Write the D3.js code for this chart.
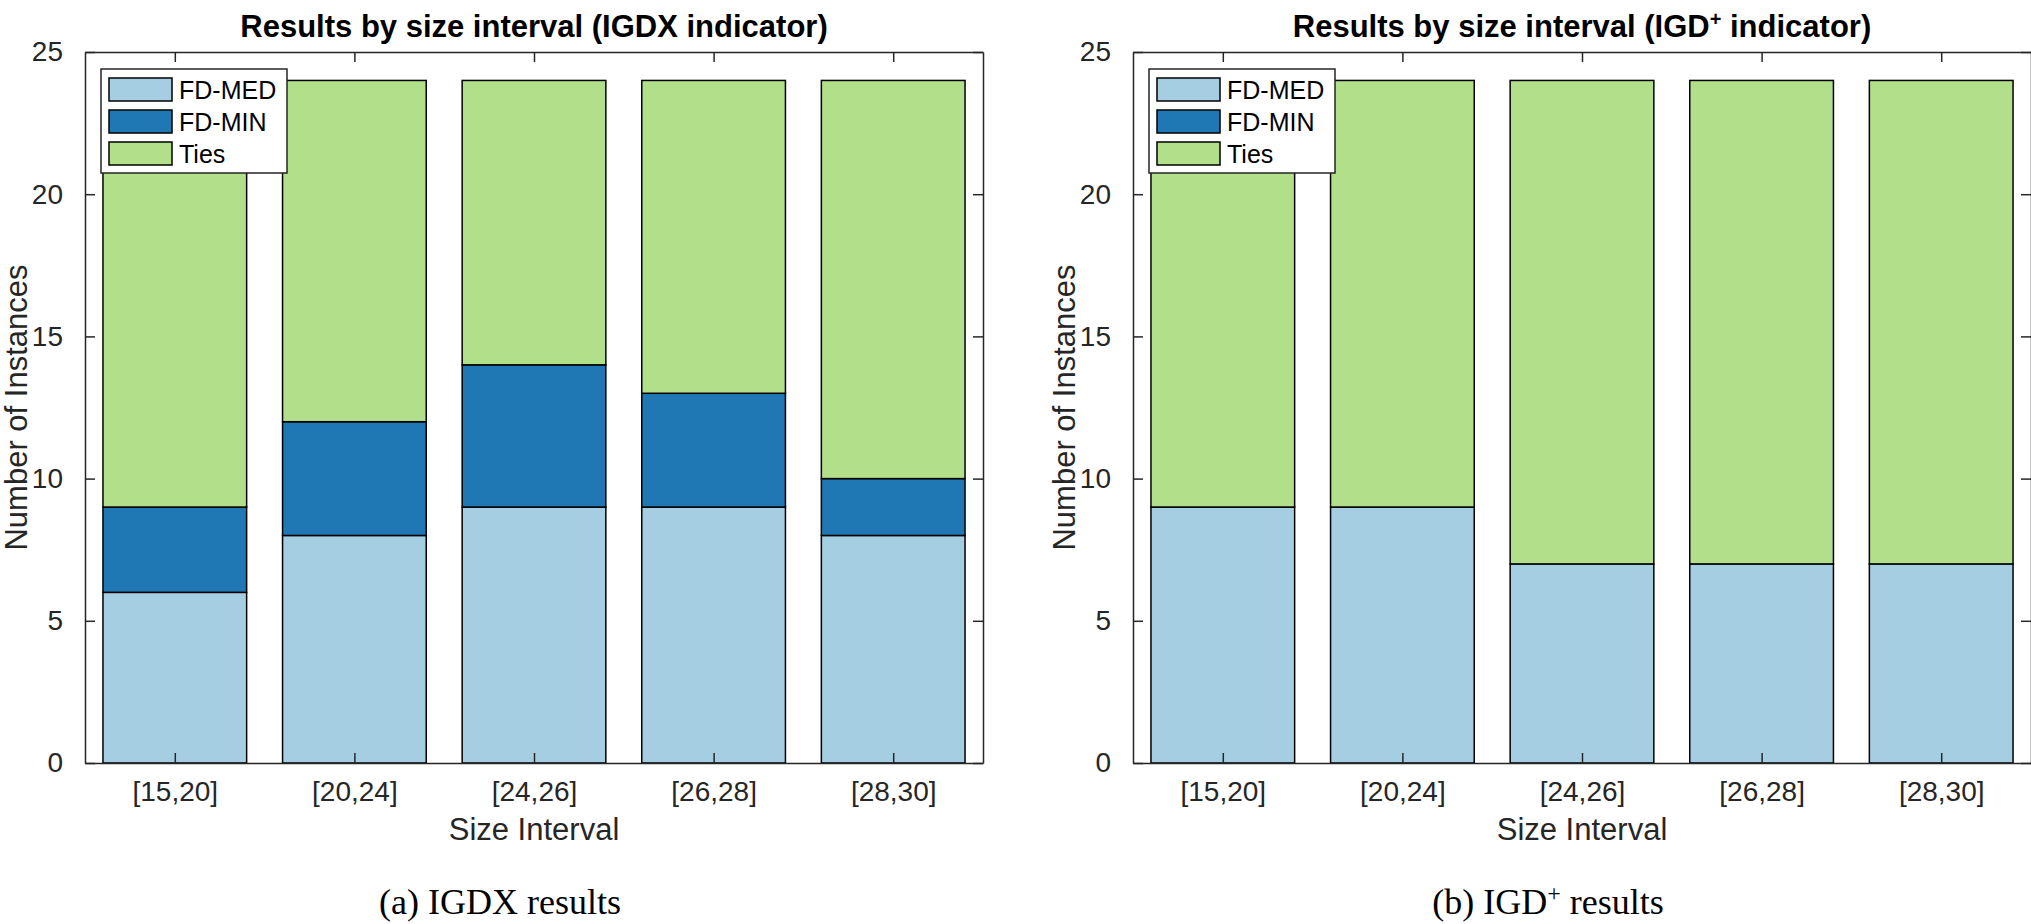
<!DOCTYPE html>
<html>
<head>
<meta charset="utf-8">
<script src="https://cdn.jsdelivr.net/npm/d3@7"></script>
<style>
  body { margin: 0; background: #fff; }
  svg { display: block; }
</style>
</head>
<body>
<div id="d3-container"></div>
<script>
// data
var categories = ['[15,20]', '[20,24]', '[24,26]', '[26,28]', '[28,30]'];
var seriesNames = ['FD-MED', 'FD-MIN', 'Ties'];

// (a) IGDX
var igdxMed = [6, 8, 9, 9, 8];
var igdxMin = [3, 4, 5, 4, 2];
var igdxTies = [15, 12, 10, 11, 14];

// (b) IGD+
var igdpMed = [9, 9, 7, 7, 7];
var igdpMin = [0, 0, 0, 0, 0];
var igdpTies = [15, 15, 17, 17, 17];

var yTicks = [0, 5, 10, 15, 20, 25];

var colors = ['#a6cee3', '#1f78b4', '#b2df8a'];
var axisColor = '#262626';

var W = 2031, H = 924;
var svg = d3.select('#d3-container')
  .append('svg')
  .attr('width', W)
  .attr('height', H);

// plot area of each panel
var plotW = 898, plotH = 711, plotTop = 52;
var panels = [
  {
    left: 85,
    title: [{ t: 'Results by size interval (IGDX indicator)' }],
    caption: [{ t: '(a) IGDX results' }],
    series: [igdxMed, igdxMin, igdxTies]
  },
  {
    left: 1133,
    title: [{ t: 'Results by size interval (IGD' }, { t: '+', sup: true }, { t: ' indicator)' }],
    caption: [{ t: '(b) IGD' }, { t: '+', sup: true }, { t: ' results' }],
    series: [igdpMed, igdpMin, igdpTies]
  }
];

function richText(sel, parts, supSize) {
  parts.forEach(function (p) {
    var ts = sel.append('tspan').text(p.t);
    if (p.sup) {
      ts.attr('baseline-shift', 'super').style('font-size', supSize);
    }
  });
}

panels.forEach(function (p) {
  var g = svg.append('g').attr('transform', 'translate(' + p.left + ',' + plotTop + ')');

  var x = d3.scaleLinear().domain([0.5, categories.length + 0.5]).range([0, plotW]);
  var y = d3.scaleLinear().domain([0, 25]).range([plotH, 0]);
  var barW = x(0.8) - x(0);

  var rows = categories.map(function (c, i) {
    var r = { cat: c, idx: i + 1 };
    seriesNames.forEach(function (s, k) { r[s] = p.series[k][i]; });
    return r;
  });
  var stacked = d3.stack().keys(seriesNames)(rows);

  // bars
  g.selectAll('.layer')
    .data(stacked)
    .enter()
    .append('g')
    .attr('class', 'layer')
    .attr('fill', function (d, i) { return colors[i]; })
    .selectAll('rect')
    .data(function (d) { return d.filter(function (v) { return v[1] > v[0]; }); })
    .enter()
    .append('rect')
    .attr('x', function (d) { return x(d.data.idx) - barW / 2; })
    .attr('y', function (d) { return y(d[1]); })
    .attr('width', barW)
    .attr('height', function (d) { return y(d[0]) - y(d[1]); })
    .attr('stroke', '#000')
    .attr('stroke-width', 1.5);

  // axes (MATLAB style: ticks inside on all four sides)
  var tickLen = 10;
  var xAxis = d3.axisBottom(x)
    .tickValues(d3.range(1, categories.length + 1))
    .tickFormat(function (d) { return categories[d - 1]; })
    .tickSizeInner(-tickLen).tickSizeOuter(0).tickPadding(18);
  var yAxis = d3.axisLeft(y)
    .tickValues(yTicks)
    .tickSizeInner(-tickLen).tickSizeOuter(0).tickPadding(22);

  var gx = g.append('g').attr('transform', 'translate(0,' + plotH + ')').call(xAxis);
  var gy = g.append('g').call(yAxis);
  var gxTop = g.append('g').call(d3.axisTop(x)
    .tickValues(d3.range(1, categories.length + 1))
    .tickFormat('').tickSizeInner(-tickLen).tickSizeOuter(0));
  var gyRight = g.append('g').attr('transform', 'translate(' + plotW + ',0)')
    .call(d3.axisRight(y).tickValues(yTicks).tickFormat('')
      .tickSizeInner(-tickLen).tickSizeOuter(0));

  [gx, gy, gxTop, gyRight].forEach(function (a) {
    a.select('.domain').attr('stroke', axisColor).attr('stroke-width', 1.5);
    a.selectAll('.tick line').attr('stroke', axisColor).attr('stroke-width', 1.5);
    a.selectAll('.tick text')
      .attr('fill', axisColor)
      .style('font-family', 'Liberation Sans, Arial, sans-serif')
      .style('font-size', '28px');
  });
  gx.selectAll('.tick text').attr('dy', '0.71em');

  // title
  var title = g.append('text')
    .attr('x', plotW / 2)
    .attr('y', -15)
    .attr('text-anchor', 'middle')
    .style('font-family', 'Liberation Sans, Arial, sans-serif')
    .style('font-weight', 'bold')
    .style('font-size', '31px')
    .attr('fill', '#000');
  richText(title, p.title, '20px');

  // axis labels
  g.append('text')
    .attr('x', plotW / 2)
    .attr('y', plotH + 77)
    .attr('text-anchor', 'middle')
    .style('font-family', 'Liberation Sans, Arial, sans-serif')
    .style('font-size', '31px')
    .attr('fill', axisColor)
    .text('Size Interval');

  g.append('text')
    .attr('transform', 'translate(-58,' + plotH / 2 + ') rotate(-90)')
    .attr('text-anchor', 'middle')
    .style('font-family', 'Liberation Sans, Arial, sans-serif')
    .style('font-size', '31px')
    .attr('fill', axisColor)
    .text('Number of Instances');

  // legend
  var lg = g.append('g').attr('transform', 'translate(16,17)');
  lg.append('rect')
    .attr('width', 186).attr('height', 104)
    .attr('fill', '#fff')
    .attr('stroke', axisColor).attr('stroke-width', 1.5);
  seriesNames.forEach(function (s, i) {
    var row = lg.append('g').attr('transform', 'translate(8,' + (9 + i * 32) + ')');
    row.append('rect')
      .attr('width', 63).attr('height', 23)
      .attr('fill', colors[i])
      .attr('stroke', '#000').attr('stroke-width', 1.5);
    row.append('text')
      .attr('x', 70).attr('y', 11.5).attr('dy', '0.36em')
      .style('font-family', 'Liberation Sans, Arial, sans-serif')
      .style('font-size', '25px')
      .attr('fill', '#000')
      .text(s);
  });

  // subfigure caption
  var cap = g.append('text')
    .attr('x', plotW / 2 - 34)
    .attr('y', 914 - plotTop)
    .attr('text-anchor', 'middle')
    .style('font-family', 'Liberation Serif, Times New Roman, serif')
    .style('font-size', '36px')
    .attr('fill', '#000');
  richText(cap, p.caption, '24px');
});
</script>
</body>
</html>
